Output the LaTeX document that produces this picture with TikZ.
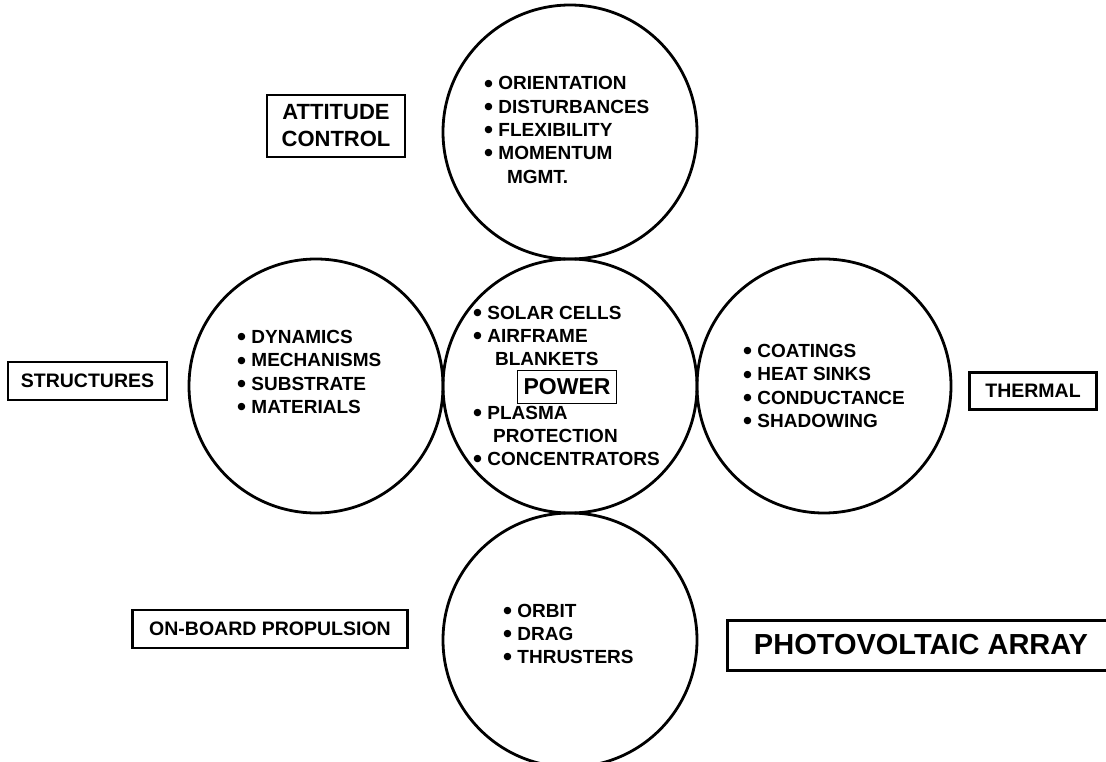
\documentclass[tikz,border=0pt]{standalone}
\usepackage{fontspec}
\setmainfont{Liberation Sans}
\usetikzlibrary{positioning}
\newcommand{\itm}{\makebox[0.75em][l]{\raisebox{-0.11em}{\scalebox{1.35}{\textbullet}}}}

\begin{document}
\begin{tikzpicture}[x=1pt, y=-1pt, node distance=0pt]
% Define styles
\tikzstyle{topic} = [circle, draw=black, line width=2.8pt, minimum size=254pt, inner sep=0pt, outer sep=0pt]
\tikzstyle{items} = [align=left, anchor=west, inner sep=0pt, font=\fontsize{19}{23.3}\selectfont\bfseries]
\tikzstyle{tag} = [rectangle, draw=black, line width=2.4pt, inner sep=0pt, align=center, font=\fontsize{19.5}{24}\selectfont\bfseries]

\useasboundingbox (0,0) rectangle (1106,762);

% Circles, each one touching the middle one
\node (power_c) [topic] at (570,386) {};
\node (attitude_c) [topic, above=of power_c] {};
\node (structures_c) [topic, left=of power_c] {};
\node (thermal_c) [topic, right=of power_c] {};
\node (propulsion_c) [topic, below=of power_c] {};

% Lists inside the circles
\node (attitude_list) [items] at (484,130) {\itm ORIENTATION\\ \itm DISTURBANCES\\ \itm FLEXIBILITY\\ \itm MOMENTUM\\ \hspace*{1.2em}MGMT.};
\node (structures_list) [items] at (237,373) {\itm DYNAMICS\\ \itm MECHANISMS\\ \itm SUBSTRATE\\ \itm MATERIALS};
\node (power_top) [items] at (473,336) {\itm SOLAR CELLS\\ \itm AIRFRAME\\ \hspace*{1.15em}BLANKETS};
\node (power_bot) [items] at (473,437) {\itm PLASMA\\ \hspace*{1.05em}PROTECTION\\ \itm CONCENTRATORS};
\node (thermal_list) [items] at (743,387) {\itm COATINGS\\ \itm HEAT SINKS\\ \itm CONDUCTANCE\\ \itm SHADOWING};
\node (propulsion_list) [items] at (503,635) {\itm ORBIT\\ \itm DRAG\\ \itm THRUSTERS};

% Boxed titles
\node (power) [tag, line width=1.6pt, minimum width=99pt, minimum height=33pt, font=\fontsize{23}{26}\selectfont\bfseries] at (567,387) {POWER};
\node (attitude) [tag, minimum width=138pt, minimum height=62pt, font=\fontsize{22}{27}\selectfont\bfseries] at (336,126) {ATTITUDE\\CONTROL};
\node (structures) [tag, minimum width=159pt, minimum height=38pt] at (87.5,381) {STRUCTURES};
\node (thermal) [tag, minimum width=127pt, minimum height=37pt] at (1033,391) {THERMAL};
\node (propulsion) [tag, minimum width=275pt, minimum height=38pt] at (270,629) {ON-BOARD PROPULSION};
\node (array) [tag, line width=3pt, minimum width=388pt, minimum height=50pt, font=\fontsize{29}{32}\selectfont\bfseries] at (921,645) {PHOTOVOLTAIC ARRAY};
\end{tikzpicture}
\end{document}
